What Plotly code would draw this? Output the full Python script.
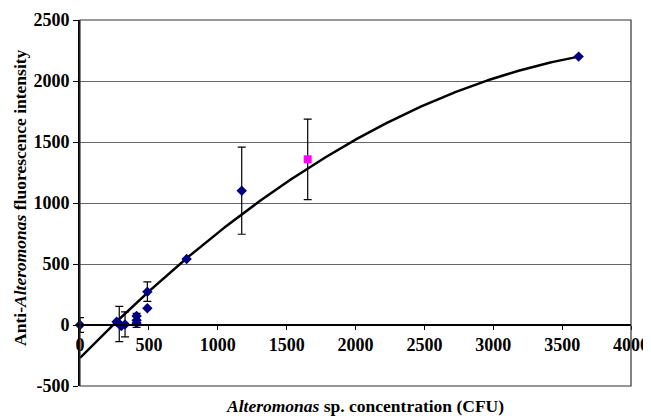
import numpy as np
import plotly.graph_objects as go

# Blue diamond measurements (CFU, intensity, error)
blue_x = [0, 266, 285, 300, 327, 411, 411, 411, 489, 489, 774, 1174, 3620]
blue_y = [0, 27, 8, -8, 5, 74, 38, 16, 273, 137, 541, 1101, 2200]
blue_err = [60, None, 145, None, 102, None, 57, None, 80, None, None, 357, None]

# Magenta square measurement
pink_x = [1653]
pink_y = [1358]
pink_err = [330]

# Polynomial trendline coefficients (c0 + c1*x + c2*x^2) and its x-extent
trend_coef = [-270, 1.1564, -1.3097e-4]
trend_range = [0, 3620]

x_ticks = [0, 500, 1000, 1500, 2000, 2500, 3000, 3500, 4000]
y_ticks = [-500, 0, 500, 1000, 1500, 2000, 2500]

FONT = "Liberation Serif, Times New Roman, serif"

xt = np.linspace(trend_range[0], trend_range[1], 300)
yt = trend_coef[0] + trend_coef[1] * xt + trend_coef[2] * xt ** 2

fig = go.Figure()
fig.add_trace(go.Scatter(x=xt, y=yt, mode="lines",
                         line=dict(color="black", width=2.5), hoverinfo="skip"))
fig.add_trace(go.Scatter(
    x=blue_x, y=blue_y, mode="markers", cliponaxis=False,
    marker=dict(symbol="diamond", size=8, color="#000080"),
    error_y=dict(type="data", array=[e if e is not None else np.nan for e in blue_err],
                 visible=True, color="black", thickness=1.2, width=4)))
fig.add_trace(go.Scatter(
    x=pink_x, y=pink_y, mode="markers",
    marker=dict(symbol="square", size=8, color="#FF00FF"),
    error_y=dict(type="data", array=pink_err, visible=True,
                 color="black", thickness=1.2, width=4)))

fig.update_layout(
    width=643, height=408,
    margin=dict(l=72, r=20, t=12, b=30),
    paper_bgcolor="white", plot_bgcolor="white",
    showlegend=False,
    font=dict(family=FONT, size=18, color="black"),
    xaxis=dict(range=[0, 4000], tickvals=x_ticks,
               ticktext=[f"<b>{v}</b>" for v in x_ticks],
               anchor="free", position=500 / 3000,
               showline=True, linecolor="black", linewidth=1.5,
               ticks="outside", ticklen=4, tickcolor="black",
               showgrid=False, zeroline=False, automargin=False,
               tickfont=dict(family=FONT, size=18, color="black")),
    yaxis=dict(range=[-500, 2500], tickvals=y_ticks,
               ticktext=[f"<b>{v}</b>" for v in y_ticks],
               domain=[0, 1], automargin=False,
               showline=True, linecolor="black", linewidth=2,
               ticks="outside", ticklen=5, tickcolor="black",
               showgrid=True, gridcolor="#666666", gridwidth=1,
               zeroline=False,
               tickfont=dict(family=FONT, size=18, color="black")),
    shapes=[dict(type="rect", xref="x domain", yref="y domain",
                 x0=0, x1=1, y0=0, y1=1, line=dict(color="#333333", width=1.2))],
    annotations=[
        dict(text="<b><i>Alteromonas</i> sp. concentration (CFU)</b>",
             xref="paper", yref="paper", x=0.517, y=0, yshift=-20,
             xanchor="center", yanchor="middle", showarrow=False,
             font=dict(family=FONT, size=17.5, color="black")),
        dict(text="<b>Anti-<i>Alteromonas</i> fluorescence intensity</b>",
             xref="paper", yref="paper", x=0, xshift=-60, y=0.514,
             xanchor="center", yanchor="middle", textangle=-90, showarrow=False,
             font=dict(family=FONT, size=17.5, color="black")),
    ],
)

fig.write_html("out.html")
